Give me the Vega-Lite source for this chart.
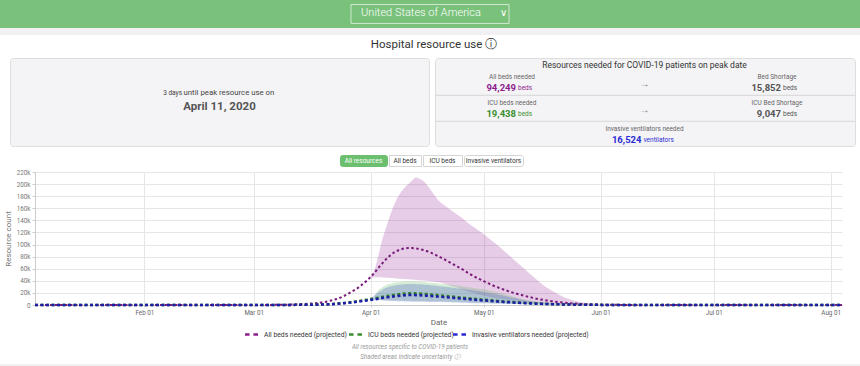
{
"$schema":"https://vega.github.io/schema/vega-lite/v6.json",
"background":"#ffffff",
"padding":0,
"spacing":0,
"config":{"font":"Roboto","view":{"stroke":null},"concat":{"spacing":0}},
"vconcat":[
{"width":860,"height":28,"view":{"fill":"#7ac27c"},
 "data":{"values":[{"country":"United States of America"}]},
 "layer":[
  {"mark":{"type":"point","shape":"M-1,-0.12H1V0.12H-1Z","size":24964,"filled":false,"stroke":"#cfe8d0","strokeWidth":1,"opacity":1},"encoding":{}},
  {"mark":{"type":"text","color":"#ffffff","fontSize":11,"fontWeight":300,"dx":-9,"dy":-1.5},"encoding":{"text":{"field":"country"}}},
  {"mark":{"type":"text","color":"#ffffff","fontSize":10,"fontWeight":300,"dx":73,"dy":-1.5},"encoding":{"text":{"value":"∨"}}}
 ]},
{"width":860,"height":7,"view":{"fill":"#f1f1f3"},"data":{"values":[{}]},"mark":{"type":"text","fontSize":1},"encoding":{"text":{"value":""}}},
{"width":860,"height":22,"data":{"values":[{"t":"Hospital resource use ⓘ"}]},"mark":{"type":"text","fontSize":11.5,"color":"#333333","dx":4,"dy":-1},"encoding":{"text":{"field":"t"}}},
{"spacing":4,"hconcat":[
  {"width":5,"height":1,"data":{"values":[{}]},"mark":{"type":"text","fontSize":1},"encoding":{"text":{"value":""}}},
  {"width":419,"height":88,"view":{"fill":"#f4f4f6","stroke":"#dddddd","cornerRadius":3},
   "data":{"values":[{"a":"3 days","b":"until peak resource use on","c":"April 11, 2020"}]},
   "layer":[
    {"mark":{"type":"text","fontSize":6.5,"color":"#444444","align":"right","dx":-37.5,"dy":-9},"encoding":{"text":{"field":"a"}}},
    {"mark":{"type":"text","fontSize":7.8,"color":"#444444","align":"left","dx":-36,"dy":-9},"encoding":{"text":{"field":"b"}}},
    {"mark":{"type":"text","fontSize":11.5,"fontWeight":"bold","color":"#555555","dy":5},"encoding":{"text":{"field":"c"}}}
   ]},
  {"width":420,"height":88,"view":{"fill":"#f4f4f6","stroke":"#dddddd","cornerRadius":3},
   "data":{"values":[
    {"col":"m","row":"t","kind":"title","text":"Resources needed for COVID-19 patients on peak date"},
    {"col":"l","row":"r1","kind":"label","text":"All beds needed"},
    {"col":"l","row":"r1","kind":"value","tone":"beds","text":"94,249"},
    {"col":"l","row":"r1","kind":"unit","tone":"beds","text":"beds"},
    {"col":"m","row":"r1","kind":"arrow","text":"→"},
    {"col":"r","row":"r1","kind":"label","text":"Bed Shortage"},
    {"col":"r","row":"r1","kind":"value","tone":"short","text":"15,852"},
    {"col":"r","row":"r1","kind":"unit","tone":"short","text":"beds"},
    {"col":"l","row":"d1","kind":"rule"},
    {"col":"l","row":"r2","kind":"label","text":"ICU beds needed"},
    {"col":"l","row":"r2","kind":"value","tone":"icu","text":"19,438"},
    {"col":"l","row":"r2","kind":"unit","tone":"icu","text":"beds"},
    {"col":"m","row":"r2","kind":"arrow","text":"→"},
    {"col":"r","row":"r2","kind":"label","text":"ICU Bed Shortage"},
    {"col":"r","row":"r2","kind":"value","tone":"short","text":"9,047"},
    {"col":"r","row":"r2","kind":"unit","tone":"short","text":"beds"},
    {"col":"l","row":"d2","kind":"rule"},
    {"col":"m","row":"r3","kind":"label","text":"Invasive ventilators needed"},
    {"col":"m","row":"r3","kind":"vvalue","tone":"vent","text":"16,524"},
    {"col":"m","row":"r3","kind":"vunit","tone":"vent","text":"ventilators"}
   ]},
   "encoding":{"y":{"field":"row","type":"nominal","axis":null,"scale":{"type":"point","padding":0,"domain":["t","r1","d1","r2","d2","r3"],"range":[11.3,76.3]}}},
   "layer":[
    {"transform":[{"filter":"datum.kind == 'rule'"}],"mark":{"type":"rule","color":"#d6d6d6","strokeWidth":1}},
    {"transform":[{"filter":"datum.kind == 'title'"}],"mark":{"type":"text","fontSize":8.5,"color":"#333333","dy":-4},
     "encoding":{"x":{"field":"col","type":"nominal","axis":null,"scale":{"type":"point","padding":0,"domain":["l","m","r"],"range":[77,342]}},"text":{"field":"text"}}},
    {"transform":[{"filter":"datum.kind == 'label'"}],"mark":{"type":"text","fontSize":6.5,"color":"#666666","dy":-5.5},
     "encoding":{"x":{"field":"col","type":"nominal","axis":null,"scale":{"type":"point","padding":0,"domain":["l","m","r"],"range":[77,342]}},"text":{"field":"text"}}},
    {"transform":[{"filter":"datum.kind == 'arrow'"}],"mark":{"type":"text","fontSize":10,"color":"#777777","dy":2},
     "encoding":{"x":{"field":"col","type":"nominal","axis":null,"scale":{"type":"point","padding":0,"domain":["l","m","r"],"range":[77,342]}},"text":{"field":"text"}}},
    {"transform":[{"filter":"datum.kind == 'value'"}],"mark":{"type":"text","fontSize":9.5,"fontWeight":"bold","align":"right","dx":4,"dy":5.5},
     "encoding":{"x":{"field":"col","type":"nominal","axis":null,"scale":{"type":"point","padding":0,"domain":["l","m","r"],"range":[77,342]}},"text":{"field":"text"},
      "color":{"field":"tone","type":"nominal","legend":null,"scale":{"domain":["beds","icu","vent","short"],"range":["#8e1f8e","#3b8f2f","#2a2ad4","#555555"]}}}},
    {"transform":[{"filter":"datum.kind == 'unit'"}],"mark":{"type":"text","fontSize":6.5,"align":"left","dx":6,"dy":6},
     "encoding":{"x":{"field":"col","type":"nominal","axis":null,"scale":{"type":"point","padding":0,"domain":["l","m","r"],"range":[77,342]}},"text":{"field":"text"},
      "color":{"field":"tone","type":"nominal","legend":null,"scale":{"domain":["beds","icu","vent","short"],"range":["#8e1f8e","#3b8f2f","#2a2ad4","#555555"]}}}},
    {"transform":[{"filter":"datum.kind == 'vvalue'"}],"mark":{"type":"text","fontSize":9.5,"fontWeight":"bold","align":"right","dx":-3,"dy":5.5},
     "encoding":{"x":{"field":"col","type":"nominal","axis":null,"scale":{"type":"point","padding":0,"domain":["l","m","r"],"range":[77,342]}},"text":{"field":"text"},
      "color":{"field":"tone","type":"nominal","legend":null,"scale":{"domain":["beds","icu","vent","short"],"range":["#8e1f8e","#3b8f2f","#2a2ad4","#555555"]}}}},
    {"transform":[{"filter":"datum.kind == 'vunit'"}],"mark":{"type":"text","fontSize":6.5,"align":"left","dx":-1,"dy":6},
     "encoding":{"x":{"field":"col","type":"nominal","axis":null,"scale":{"type":"point","padding":0,"domain":["l","m","r"],"range":[77,342]}},"text":{"field":"text"},
      "color":{"field":"tone","type":"nominal","legend":null,"scale":{"domain":["beds","icu","vent","short"],"range":["#8e1f8e","#3b8f2f","#2a2ad4","#555555"]}}}}
   ]}
]},
{"width":1,"height":7,"data":{"values":[{}]},"mark":{"type":"text","fontSize":1},"encoding":{"text":{"value":""}}},
{"spacing":0,"hconcat":[
  {"width":339,"height":1,"data":{"values":[{}]},"mark":{"type":"text","fontSize":1},"encoding":{"text":{"value":""}}},
  {"width":47,"height":11,"view":{"fill":"#6cbf6f","stroke":"#6cbf6f","cornerRadius":2},"data":{"values":[{"t":"All resources"}]},"mark":{"type":"text","fontSize":6.5,"color":"#ffffff"},"encoding":{"text":{"field":"t"}}},
  {"width":32,"height":11,"view":{"fill":"#ffffff","stroke":"#d5d5d5"},"data":{"values":[{"t":"All beds"}]},"mark":{"type":"text","fontSize":6.5,"color":"#333333"},"encoding":{"text":{"field":"t"}}},
  {"width":39,"height":11,"view":{"fill":"#ffffff","stroke":"#d5d5d5"},"data":{"values":[{"t":"ICU beds"}]},"mark":{"type":"text","fontSize":6.5,"color":"#333333"},"encoding":{"text":{"field":"t"}}},
  {"width":59,"height":11,"view":{"fill":"#ffffff","stroke":"#d5d5d5","cornerRadius":2},"data":{"values":[{"t":"Invasive ventilators"}]},"mark":{"type":"text","fontSize":6.5,"color":"#333333"},"encoding":{"text":{"field":"t"}}}
]},
{"width":1,"height":1,"data":{"values":[{}]},"mark":{"type":"text","fontSize":1},"encoding":{"text":{"value":""}}},
{"spacing":0,"hconcat":[
  {"width":4,"height":1,"data":{"values":[{}]},"mark":{"type":"text","fontSize":1},"encoding":{"text":{"value":""}}},
  {"width":807,"height":133,
   "data":{"values":[
    {"d":"2020-01-03","b":0,"i":0,"v":0},
    {"d":"2020-02-01","b":0,"i":0,"v":0},
    {"d":"2020-03-01","b":50,"i":20,"v":15},
    {"d":"2020-03-05","b":150,"i":60,"v":50},
    {"d":"2020-03-09","b":450,"i":150,"v":130},
    {"d":"2020-03-13","b":1200,"i":300,"v":250},
    {"d":"2020-03-16","b":2300,"i":500,"v":420},
    {"d":"2020-03-19","b":4300,"i":900,"v":760},
    {"d":"2020-03-21","b":6500,"i":1400,"v":1200},
    {"d":"2020-03-23","b":10000,"i":2200,"v":1900},
    {"d":"2020-03-25","b":15000,"i":3400,"v":2900},
    {"d":"2020-03-27","b":22000,"i":5000,"v":4250},
    {"d":"2020-03-29","b":30000,"i":6800,"v":5800},
    {"d":"2020-03-31","b":40500,"i":8800,"v":7500},
    {"d":"2020-04-01","b":46500,"bl":45000,"bh":47000,"i":9900,"v":8400,"vl":8000,"vh":10000},
    {"d":"2020-04-02","b":53000,"bl":46000,"bh":58000,"i":11000,"il":10000,"ih":14000,"v":9350,"vl":8000,"vh":16000},
    {"d":"2020-04-03","b":61000,"bl":46000,"bh":80000,"i":12200,"il":9000,"ih":24000,"v":10350,"vl":7800,"vh":21000},
    {"d":"2020-04-04","b":68000,"bl":45500,"bh":106000,"i":13400,"il":8500,"ih":29000,"v":11400,"vl":7500,"vh":25000},
    {"d":"2020-04-05","b":75000,"bl":45200,"bh":126000,"i":14500,"il":8000,"ih":32500,"v":12300,"vl":7100,"vh":28000},
    {"d":"2020-04-06","b":81000,"bl":45000,"bh":145000,"i":15500,"il":7800,"ih":35000,"v":13200,"vl":6800,"vh":30500},
    {"d":"2020-04-07","b":86000,"bl":44500,"bh":162000,"i":16500,"il":7600,"ih":36500,"v":14000,"vl":6500,"vh":32000},
    {"d":"2020-04-08","b":89500,"bl":44000,"bh":176000,"i":17400,"il":7400,"ih":37500,"v":14800,"vl":6200,"vh":33200},
    {"d":"2020-04-09","b":92000,"bl":43500,"bh":186000,"i":18200,"il":7200,"ih":38200,"v":15500,"vl":6000,"vh":34000},
    {"d":"2020-04-10","b":93600,"bl":43000,"bh":194000,"i":18900,"il":7000,"ih":38600,"v":16100,"vl":5800,"vh":34500},
    {"d":"2020-04-11","b":94249,"bl":42500,"bh":200000,"i":19438,"il":6900,"ih":38800,"v":16524,"vl":5600,"vh":34700},
    {"d":"2020-04-12","b":94200,"bl":42000,"bh":206000,"i":19400,"il":6800,"ih":38800,"v":16500,"vl":5500,"vh":34700},
    {"d":"2020-04-13","b":93600,"bl":41500,"bh":211000,"i":19200,"il":6700,"ih":38600,"v":16300,"vl":5400,"vh":34500},
    {"d":"2020-04-14","b":92500,"bl":41000,"bh":209000,"i":18900,"il":6600,"ih":38300,"v":16050,"vl":5300,"vh":34200},
    {"d":"2020-04-15","b":91000,"bl":40500,"bh":205000,"i":18500,"il":6500,"ih":37900,"v":15700,"vl":5200,"vh":33800},
    {"d":"2020-04-16","b":89000,"bl":40000,"bh":198000,"i":18000,"il":6400,"ih":37400,"v":15300,"vl":5100,"vh":33300},
    {"d":"2020-04-17","b":86500,"bl":39300,"bh":190000,"i":17500,"il":6300,"ih":36900,"v":14900,"vl":5000,"vh":32800},
    {"d":"2020-04-18","b":83500,"bl":38500,"bh":181000,"i":16900,"il":6200,"ih":36300,"v":14350,"vl":4900,"vh":32200},
    {"d":"2020-04-19","b":80500,"bl":37500,"bh":173000,"i":16300,"il":6000,"ih":35700,"v":13850,"vl":4800,"vh":31600},
    {"d":"2020-04-21","b":74000,"bl":34500,"bh":163000,"i":15000,"il":5700,"ih":34300,"v":12750,"vl":4500,"vh":30200},
    {"d":"2020-04-23","b":67000,"bl":30500,"bh":154000,"i":13700,"il":5300,"ih":32800,"v":11650,"vl":4200,"vh":28700},
    {"d":"2020-04-25","b":60000,"bl":26000,"bh":145000,"i":12400,"il":4900,"ih":31000,"v":10550,"vl":3900,"vh":27000},
    {"d":"2020-04-27","b":52500,"bl":22000,"bh":135000,"i":11100,"il":4500,"ih":29200,"v":9450,"vl":3500,"vh":25300},
    {"d":"2020-04-29","b":45500,"bl":18500,"bh":126000,"i":9900,"il":4000,"ih":27500,"v":8400,"vl":3100,"vh":23500},
    {"d":"2020-05-01","b":39500,"bl":15500,"bh":117000,"i":8800,"il":3600,"ih":25500,"v":7500,"vl":2800,"vh":21700},
    {"d":"2020-05-03","b":33500,"bl":13000,"bh":107000,"i":7700,"il":3100,"ih":23000,"v":6550,"vl":2400,"vh":19500},
    {"d":"2020-05-05","b":28500,"bl":10800,"bh":97000,"i":6600,"il":2700,"ih":20000,"v":5600,"vl":2100,"vh":17000},
    {"d":"2020-05-07","b":24000,"bl":9000,"bh":86000,"i":5600,"il":2300,"ih":17000,"v":4750,"vl":1800,"vh":14300},
    {"d":"2020-05-09","b":20000,"bl":7400,"bh":75000,"i":4700,"il":1900,"ih":13500,"v":4000,"vl":1500,"vh":11500},
    {"d":"2020-05-11","b":16500,"bl":6000,"bh":64000,"i":3900,"il":1600,"ih":10000,"v":3300,"vl":1250,"vh":8800},
    {"d":"2020-05-13","b":13300,"bl":4800,"bh":53000,"i":3200,"il":1300,"ih":7800,"v":2700,"vl":1000,"vh":6700},
    {"d":"2020-05-15","b":10500,"bl":3800,"bh":42000,"i":2600,"il":1000,"ih":5800,"v":2200,"vl":800,"vh":5000},
    {"d":"2020-05-17","b":8200,"bl":3000,"bh":32000,"i":2050,"il":800,"ih":4200,"v":1750,"vl":600,"vh":3600},
    {"d":"2020-05-19","b":6300,"bl":2300,"bh":24000,"i":1600,"il":600,"ih":3000,"v":1350,"vl":450,"vh":2600},
    {"d":"2020-05-21","b":4700,"bl":1700,"bh":17000,"i":1250,"il":450,"ih":2100,"v":1050,"vl":350,"vh":1800},
    {"d":"2020-05-23","b":3400,"bl":1200,"bh":11000,"i":950,"il":350,"ih":1400,"v":800,"vl":270,"vh":1200},
    {"d":"2020-05-25","b":2400,"bl":850,"bh":7000,"i":700,"il":250,"ih":900,"v":600,"vl":200,"vh":800},
    {"d":"2020-05-28","b":1400,"bl":500,"bh":3500,"i":450,"il":150,"ih":500,"v":380,"vl":120,"vh":450},
    {"d":"2020-06-01","b":600,"bl":250,"bh":1200,"i":220,"il":80,"ih":250,"v":190,"vl":60,"vh":200},
    {"d":"2020-06-05","b":250,"bl":100,"bh":400,"i":100,"il":40,"ih":120,"v":85,"vl":30,"vh":100},
    {"d":"2020-06-10","b":100,"i":40,"v":35},
    {"d":"2020-07-01","b":0,"i":0,"v":0},
    {"d":"2020-08-04","b":0,"i":0,"v":0}
   ]},
   "encoding":{"x":{"field":"d","type":"temporal","title":"Date",
     "scale":{"type":"utc","domain":[{"year":2020,"month":1,"date":3,"utc":true},{"year":2020,"month":8,"date":4,"utc":true}]},
     "axis":{"values":[{"year":2020,"month":2,"date":1,"utc":true},{"year":2020,"month":3,"date":1,"utc":true},{"year":2020,"month":4,"date":1,"utc":true},{"year":2020,"month":5,"date":1,"utc":true},{"year":2020,"month":6,"date":1,"utc":true},{"year":2020,"month":7,"date":1,"utc":true},{"year":2020,"month":8,"date":1,"utc":true}],
      "tickCount":20,"format":"%b %d","labelFontSize":6.3,"labelColor":"#666666","tickSize":2,"tickColor":"#cccccc","labelPadding":2,"domainColor":"#cccccc","gridColor":"#e6e6e6","titleFontSize":8,"titleColor":"#666666","titleFontWeight":"normal","titlePadding":3,"labelFlush":false}}},
   "layer":[
    {"mark":{"type":"area","color":"#800080","opacity":0.2,"interpolate":"monotone"},
     "encoding":{"y":{"field":"bl","type":"quantitative","title":"Resource count","scale":{"domain":[0,220000]},
       "axis":{"values":[0,20000,40000,60000,80000,100000,120000,140000,160000,180000,200000,220000],"tickCount":12,"labelOverlap":false,"labelExpr":"datum.value == 0 ? '0' : (datum.value / 1000) + 'k'","labelFontSize":6.3,"labelColor":"#777777","tickSize":3,"tickColor":"#cccccc","domainColor":"#cccccc","gridColor":"#e6e6e6","titleFontSize":8,"titleColor":"#777777","titleFontWeight":"normal","titlePadding":4,"labelPadding":2}},
      "y2":{"field":"bh"}}},
    {"mark":{"type":"area","color":"#5cb85c","opacity":0.25,"interpolate":"monotone"},
     "encoding":{"y":{"field":"il","type":"quantitative","title":"Resource count"},"y2":{"field":"ih"}}},
    {"mark":{"type":"area","color":"#4f63c9","opacity":0.3,"interpolate":"monotone"},
     "encoding":{"y":{"field":"vl","type":"quantitative","title":"Resource count"},"y2":{"field":"vh"}}},
    {"mark":{"type":"line","strokeWidth":2,"strokeDash":[2.5,2.5],"interpolate":"monotone","color":"#7a1b7a"},
     "encoding":{"y":{"field":"b","type":"quantitative","title":"Resource count"}}},
    {"mark":{"type":"line","strokeWidth":2.5,"strokeDash":[3,2.5],"interpolate":"monotone","color":"#2d7f2d"},
     "encoding":{"y":{"field":"i","type":"quantitative","title":"Resource count"}}},
    {"mark":{"type":"line","strokeWidth":2.5,"strokeDash":[3,2.5],"interpolate":"monotone","color":"#1e1ea8"},
     "encoding":{"y":{"field":"v","type":"quantitative","title":"Resource count"}}}
   ]}
]},
{"width":1,"height":2,"data":{"values":[{}]},"mark":{"type":"text","fontSize":1},"encoding":{"text":{"value":""}}},
{"width":860,"height":11,
 "data":{"values":[{"s":"All beds needed (projected)"},{"s":"ICU beds needed (projected)"},{"s":"Invasive ventilators needed (projected)"}]},
 "encoding":{"x":{"field":"s","type":"nominal","axis":null,"sort":null,"scale":{"type":"point","padding":0,"domain":["All beds needed (projected)","ICU beds needed (projected)","Invasive ventilators needed (projected)"],"range":[251.5,459.5]}}},
 "layer":[
  {"mark":{"type":"point","shape":"M-1,0H-0.3M0.3,0H1","size":169,"filled":false,"strokeWidth":2.5,"opacity":1},
   "encoding":{"color":{"field":"s","type":"nominal","legend":null,"scale":{"domain":["All beds needed (projected)","ICU beds needed (projected)","Invasive ventilators needed (projected)"],"range":["#7a1b7a","#2d7f2d","#1e1ea8"]}}}},
  {"mark":{"type":"text","align":"left","dx":12.5,"fontSize":6.8,"color":"#333333"},"encoding":{"text":{"field":"s"}}}
 ]},
{"width":860,"height":24,"data":{"values":[{"a":"All resources specific to COVID-19 patients","b":"Shaded areas indicate uncertainty ⓘ"}]},
 "layer":[
  {"mark":{"type":"text","fontSize":6.3,"fontStyle":"italic","color":"#999999","dx":-20,"dy":-5.5},"encoding":{"text":{"field":"a"}}},
  {"mark":{"type":"text","fontSize":6.3,"fontStyle":"italic","color":"#999999","dx":-20,"dy":4.5},"encoding":{"text":{"field":"b"}}}
 ]},
{"width":860,"height":6,"view":{"fill":"#f1f1f3"},"data":{"values":[{}]},"mark":{"type":"text","fontSize":1},"encoding":{"text":{"value":""}}}
]}
